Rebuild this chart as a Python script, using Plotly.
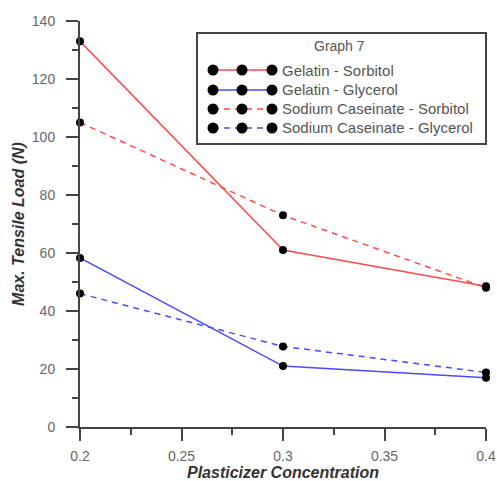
import plotly.graph_objects as go

conc = [0.2, 0.3, 0.4]
gelatin_sorbitol = [133, 61, 48.5]
gelatin_glycerol = [58.3, 21, 17]
nacas_sorbitol = [105, 73, 48]
nacas_glycerol = [46, 27.8, 18.8]

series_names = ["Gelatin - Sorbitol", "Gelatin - Glycerol",
                "Sodium Caseinate - Sorbitol", "Sodium Caseinate - Glycerol"]
series_values = [gelatin_sorbitol, gelatin_glycerol, nacas_sorbitol, nacas_glycerol]
series_colors = ["#ff4a4a", "#4a4aff", "#ff4a4a", "#4a4aff"]
series_dash = ["solid", "solid", "6px,5px", "6px,5px"]

legend_title = "Graph 7"
x_title = "Plasticizer Concentration"
y_title = "Max. Tensile Load (N)"

W, H = 497, 481
L, R, T, B = 80, 11, 21, 54
PW, PH = W - L - R, H - T - B

def px(xp):
    return (xp - L) / PW

def py(yp):
    return (H - B - yp) / PH

fig = go.Figure()
for name, vals, col, dash in zip(series_names, series_values, series_colors, series_dash):
    fig.add_trace(go.Scatter(
        x=conc, y=vals, name=name, mode="lines+markers",
        line=dict(color=col, width=1.5, dash=dash),
        marker=dict(color="black", size=8),
        cliponaxis=False, showlegend=False))

# custom legend (three markers per sample, like the original)
box = dict(x0=197, x1=486, y0=33, y1=144)
fig.add_shape(type="rect", xref="paper", yref="paper",
              x0=px(box["x0"]), x1=px(box["x1"]), y0=py(box["y1"]), y1=py(box["y0"]),
              line=dict(color="#444", width=2), fillcolor="white", layer="below")
fig.add_annotation(xref="paper", yref="paper", x=px(339), y=py(46), text=legend_title,
                   showarrow=False, font=dict(size=14, color="#555"),
                   xanchor="center", yanchor="middle")
row_y = [70, 90, 109, 128]
mk_x = [213, 242, 272]
for name, col, dash, ry in zip(series_names, series_colors, series_dash, row_y):
    fig.add_trace(go.Scatter(
        x=[px(v) for v in mk_x], y=[py(ry)] * 3, mode="lines+markers",
        line=dict(color=col, width=1.5, dash=dash),
        marker=dict(color="black", size=11),
        xaxis="x2", yaxis="y2", cliponaxis=False, showlegend=False, hoverinfo="skip"))
    fig.add_annotation(xref="paper", yref="paper", x=px(280), y=py(ry), text=name,
                       showarrow=False, font=dict(size=15, color="#555"),
                       xanchor="left", yanchor="middle")

axis_common = dict(
    showline=True, linecolor="#444", linewidth=2, showgrid=False, zeroline=False,
    ticks="outside", ticklen=12, tickwidth=1.5, tickcolor="#444",
    tickfont=dict(family="Liberation Sans, Arial", size=14, color="#666"),
    mirror=False, automargin=False,
)
fig.update_layout(
    width=W, height=H, autosize=False,
    margin=dict(l=L, r=R, t=T, b=B),
    plot_bgcolor="white", paper_bgcolor="white",
    font=dict(family="Liberation Sans, Arial"),
    xaxis=dict(range=[0.2, 0.4],
               tickvals=[0.2, 0.25, 0.3, 0.35, 0.4],
               ticktext=["0.2", "0.25", "0.3", "0.35", "0.4"],
               minor=dict(dtick=0.025, tick0=0.2, ticklen=6, ticks="outside", tickcolor="#444", tickwidth=1.5),
               ticklabelstandoff=3,
               title=dict(text=x_title, standoff=4,
                          font=dict(size=16, color="#333", weight="bold", style="italic")),
               **axis_common),
    yaxis=dict(range=[0, 140], dtick=20, tick0=0,
               minor=dict(dtick=10, ticklen=6, ticks="outside", tickcolor="#444", tickwidth=1.5),
               ticklabelstandoff=8,
               title=dict(text=y_title, standoff=3,
                          font=dict(size=16, color="#333", weight="bold", style="italic")),
               **axis_common),
    xaxis2=dict(overlaying="x", range=[0, 1], visible=False, fixedrange=True),
    yaxis2=dict(overlaying="y", range=[0, 1], visible=False, fixedrange=True),
)

fig.write_html("out.html", config={"displayModeBar": False},
               post_script="document.body.style.margin='0';document.body.style.overflow='hidden';")
